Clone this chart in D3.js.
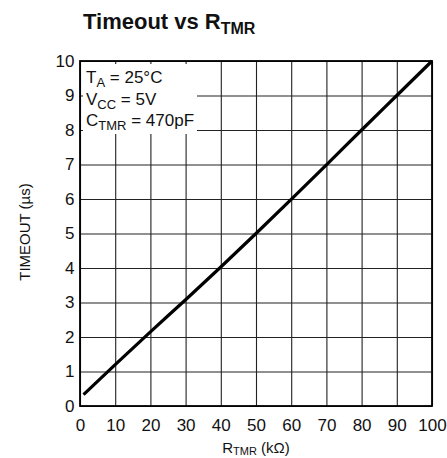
<!DOCTYPE html>
<html><head><meta charset="utf-8">
<script src="https://cdn.jsdelivr.net/npm/d3@7"></script>
<style>
body{margin:0;background:#fff;}
text{font-family:"Liberation Sans",Arial,sans-serif;fill:#111;}
</style></head>
<body><svg id="c" width="447" height="458"></svg>
<script>
const xTicks = [0,10,20,30,40,50,60,70,80,90,100];
const yTicks = [0,1,2,3,4,5,6,7,8,9,10];
const rtmr = [1, 10, 20, 30, 40, 50, 60, 70, 80, 90, 100];
const timeout = [0.33, 1.2, 2.15, 3.08, 4.03, 5.0, 5.99, 6.99, 8.0, 9.0, 10];
const legendLines = [["T","A"," = 25°C"],["V","CC"," = 5V"],["C","TMR"," = 470pF"]];

const svg = d3.select("#c");
const L=80,R=432,T=61,B=406;
const x = d3.scaleLinear().domain([0,100]).range([L,R]);
const y = d3.scaleLinear().domain([0,10]).range([B,T]);

// grid
svg.append("g").attr("transform",`translate(0,${B})`)
  .call(d3.axisBottom(x).tickValues(xTicks).tickSize(-(B-T)).tickFormat(""))
  .call(g=>{g.select(".domain").remove();g.selectAll("line").attr("stroke","#222").attr("stroke-width",1.1);});
svg.append("g").attr("transform",`translate(${L},0)`)
  .call(d3.axisLeft(y).tickValues(yTicks).tickSize(-(R-L)).tickFormat(""))
  .call(g=>{g.select(".domain").remove();g.selectAll("line").attr("stroke","#222").attr("stroke-width",1.1);});

// legend box
svg.append("rect").attr("x",83).attr("y",64).attr("width",114).attr("height",70).attr("fill","#fff");

// frame
svg.append("rect").attr("x",L).attr("y",T).attr("width",R-L).attr("height",B-T)
  .attr("fill","none").attr("stroke","#000").attr("stroke-width",1.8);

// tick labels
svg.append("g").attr("transform",`translate(0,${B})`)
  .call(d3.axisBottom(x).tickValues(xTicks).tickSize(0).tickPadding(13).tickFormat(d3.format("d")))
  .call(g=>{g.select(".domain").remove();g.selectAll("text").attr("font-size",17).attr("fill","#111").attr("font-family",null);});
svg.append("g").attr("transform",`translate(${L},0)`)
  .call(d3.axisLeft(y).tickValues(yTicks).tickSize(0).tickPadding(5.5).tickFormat(d3.format("d")))
  .call(g=>{g.select(".domain").remove();g.selectAll("text").attr("font-size",17).attr("fill","#111").attr("font-family",null);});

// data line
const pts = rtmr.map((r,i)=>[r,timeout[i]]);
svg.append("path").datum(pts)
  .attr("d",d3.line().x(d=>x(d[0])).y(d=>y(d[1])).curve(d3.curveMonotoneX))
  .attr("fill","none").attr("stroke","#000").attr("stroke-width",3.2).attr("stroke-linecap","butt");

// legend text
legendLines.forEach((l,i)=>{
  const t = svg.append("text").attr("x",86).attr("y",83+i*21.5).attr("font-size",17);
  t.append("tspan").text(l[0]);
  t.append("tspan").attr("font-size",13).attr("dy",4).text(l[1]);
  t.append("tspan").attr("dy",-4).text(l[2]);
});

// title
const tt = svg.append("text").attr("x",83).attr("y",29).attr("font-size",22).attr("font-weight","bold");
tt.append("tspan").text("Timeout vs R");
tt.append("tspan").attr("font-size",16).attr("dy",5).text("TMR");

// axis titles
const xt = svg.append("text").attr("x",256).attr("y",453).attr("text-anchor","middle").attr("font-size",15);
xt.append("tspan").text("R");
xt.append("tspan").attr("font-size",11).attr("dy",2).text("TMR");
xt.append("tspan").attr("dy",-2).text(" (kΩ)");

svg.append("text").attr("transform","translate(30,232) rotate(-90)").attr("text-anchor","middle")
  .attr("font-size",15).text("TIMEOUT (µs)");
</script></body></html>
